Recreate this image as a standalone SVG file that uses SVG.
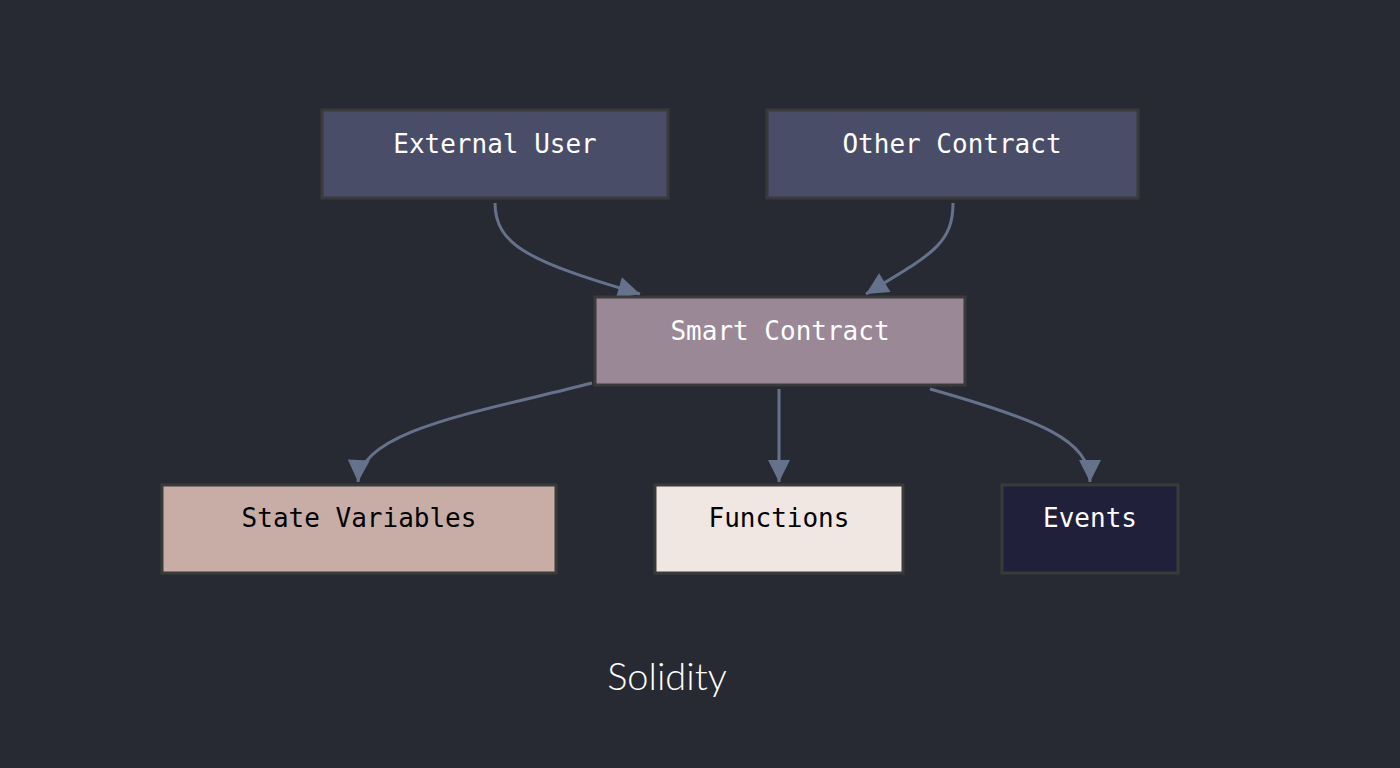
<svg xmlns="http://www.w3.org/2000/svg" width="1400" height="768" viewBox="0 0 1400 768">
<style>
.n{stroke:#3a3a3a;stroke-width:3}
.t{font-family:"DejaVu Sans Mono",monospace;font-size:26px;text-anchor:middle}
.e{fill:none;stroke:#66728c;stroke-width:3}
</style>
<defs><marker id="a" viewBox="0 0 10 10" refX="9" refY="5" markerWidth="8" markerHeight="8" markerUnits="userSpaceOnUse" orient="auto"><path d="M0,0L10,5L0,10z" fill="#66728c" transform="scale(1)"/></marker>
<marker id="b" viewBox="0 0 10 10" refX="10" refY="5" markerWidth="24" markerHeight="22" markerUnits="userSpaceOnUse" orient="auto"><path d="M0,0L10,5L0,10z" fill="#66728c"/></marker></defs>
<rect width="1400" height="768" fill="#272a32"/>
<g id="connectors">
<path class="e" marker-end="url(#b)" d="M495,203 C495,245 530,262 640,294"/>
<path class="e" marker-end="url(#b)" d="M953,203 C953,245 930,255 866,294"/>
<path class="e" marker-end="url(#b)" d="M592,383 C480,412 360,430 358,482"/>
<path class="e" marker-end="url(#b)" d="M779,389 L779,482"/>
<path class="e" marker-end="url(#b)" d="M930,389 C1040,420 1090,440 1090,482"/>
</g>
<g id="external-user"><rect class="n" x="322" y="110" width="346" height="88" fill="#4a4d68"/><text class="t" x="495" y="153" fill="#fff">External User</text></g>
<g id="other-contract"><rect class="n" x="767" y="110" width="371" height="88" fill="#4a4d68"/><text class="t" x="952" y="153" fill="#fff">Other Contract</text></g>
<g id="smart-contract"><rect class="n" x="595" y="297" width="370" height="88" fill="#9a8896"/><text class="t" x="780" y="340" fill="#fff">Smart Contract</text></g>
<g id="state-variables"><rect class="n" x="162" y="485" width="394" height="88" fill="#c8ada6"/><text class="t" x="359" y="527" fill="#000">State Variables</text></g>
<g id="functions"><rect class="n" x="655" y="485" width="248" height="88" fill="#f1e7e2"/><text class="t" x="779" y="527" fill="#000">Functions</text></g>
<g id="events"><rect class="n" x="1002" y="485" width="176" height="88" fill="#21203a"/><text class="t" x="1090" y="527" fill="#fff">Events</text></g>
<text x="667" y="690" font-family="Lato, sans-serif" font-weight="300" font-size="38" fill="#fff" text-anchor="middle">Solidity</text>
</svg>
